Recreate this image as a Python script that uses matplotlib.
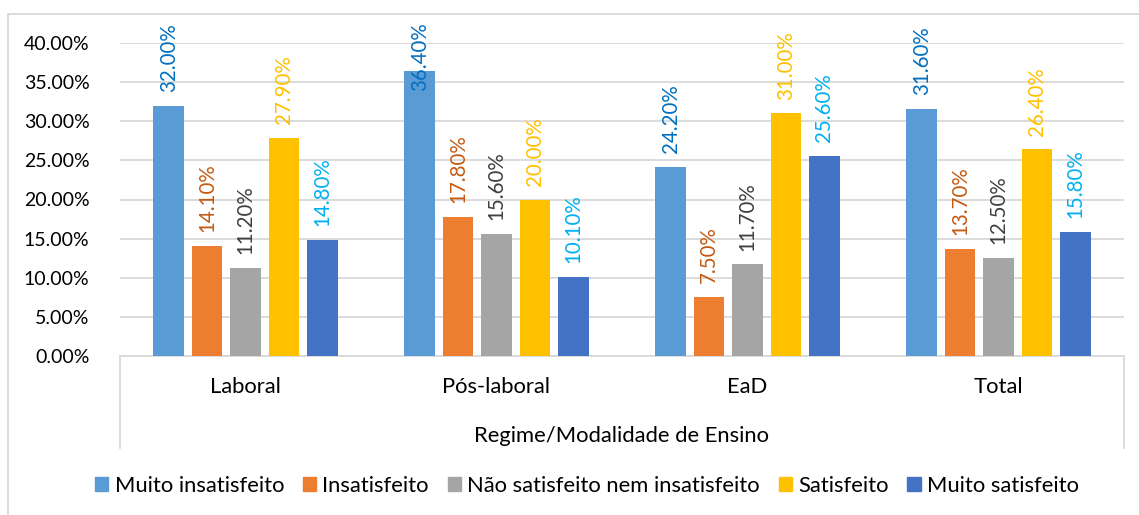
import numpy as np
import matplotlib.pyplot as plt
from matplotlib.patches import Rectangle
from matplotlib.lines import Line2D
from matplotlib.ticker import FuncFormatter, MultipleLocator

plt.rcParams["font.family"] = ["Lato", "DejaVu Sans"]

categories = ["Laboral", "Pós-laboral", "EaD", "Total"]
series = ["Muito insatisfeito", "Insatisfeito", "Não satisfeito nem insatisfeito",
          "Satisfeito", "Muito satisfeito"]
muito_insatisfeito = [32.00, 36.40, 24.20, 31.60]
insatisfeito = [14.10, 17.80, 7.50, 13.70]
nem_nem = [11.20, 15.60, 11.70, 12.50]
satisfeito = [27.90, 20.00, 31.00, 26.40]
muito_satisfeito = [14.80, 10.10, 25.60, 15.80]
values = [muito_insatisfeito, insatisfeito, nem_nem, satisfeito, muito_satisfeito]

bar_colors = ["#5B9BD5", "#ED7D31", "#A5A5A5", "#FFC000", "#4472C4"]
label_colors = ["#0070C0", "#C55A11", "#404040", "#FFC000", "#00B0F0"]

FS_NUM = 14
FS_LBL = 14.8
FS_TXT = 15.8

W, H = 1139, 515
fig = plt.figure(figsize=(W / 100, H / 100), dpi=100)
ax = fig.add_axes([120 / W, 1 - 356 / H, (1124 - 120) / W, (356 - 43) / H])

x = np.arange(len(categories))
pitch = 0.153
width = 0.1215
for i, (vals, c) in enumerate(zip(values, bar_colors)):
    ax.bar(x + (i - 2) * pitch, vals, width, color=c, zorder=3)

ax.set_xlim(-0.5, len(categories) - 0.5)
ax.set_ylim(0, 40)
ax.yaxis.set_major_locator(MultipleLocator(5))
ax.yaxis.set_major_formatter(FuncFormatter(lambda v, p: f"{v:.2f}%"))
ax.grid(axis="y", color="#D9D9D9", linewidth=1.3, zorder=0)
ax.tick_params(axis="y", length=0, pad=22, labelsize=FS_NUM, labelcolor="#000000")
ax.set_xticks([])
for s in ["top", "right", "left"]:
    ax.spines[s].set_visible(False)
ax.spines["bottom"].set_color("#D9D9D9")
ax.spines["bottom"].set_linewidth(1.3)

# category labels and multi-level axis box
for xi, cat in zip(x, categories):
    fig.text((120 + 251 * (xi + 0.5)) / W, 1 - 387 / H, cat, ha="center", va="center",
             fontsize=FS_TXT)
fig.text(622 / W, 1 - 436 / H, "Regime/Modalidade de Ensino", ha="center", va="center",
         fontsize=FS_TXT)
for px in [120, 1124]:
    fig.add_artist(Line2D([px / W, px / W], [1 - 356 / H, 1 - 448 / H],
                          color="#D9D9D9", linewidth=1.3))

# chart border
fig.add_artist(Rectangle((8 / W, -0.1), 1.2, 1 - 14 / H + 0.1, fill=False,
                         edgecolor="#D9D9D9", linewidth=1.3))

# data labels, pushed down if they would leave the chart area
fig.canvas.draw()
renderer = fig.canvas.get_renderer()
top_limit = H - 22
for i, vals in enumerate(values):
    for xi, v in zip(x, vals):
        t = ax.annotate(f"{v:.2f}%", (xi + (i - 2) * pitch, v), xytext=(0, 10),
                        textcoords="offset points", rotation=90, ha="center", va="bottom",
                        fontsize=FS_LBL, color=label_colors[i], annotation_clip=False,
                        zorder=4)
        bb = t.get_window_extent(renderer)
        if bb.y1 > top_limit:
            t.set_position((0, 10 - (bb.y1 - top_limit) * 72 / 100))

# legend
handles = [Rectangle((0, 0), 1, 1, color=c) for c in bar_colors]
fig.legend(handles, series, loc="center", bbox_to_anchor=(587 / W, 1 - 486 / H), ncol=5,
           frameon=False, fontsize=FS_TXT, handlelength=0.6, handleheight=0.6,
           handletextpad=0.3, columnspacing=0.85)

fig.savefig("out.png", dpi=100)
